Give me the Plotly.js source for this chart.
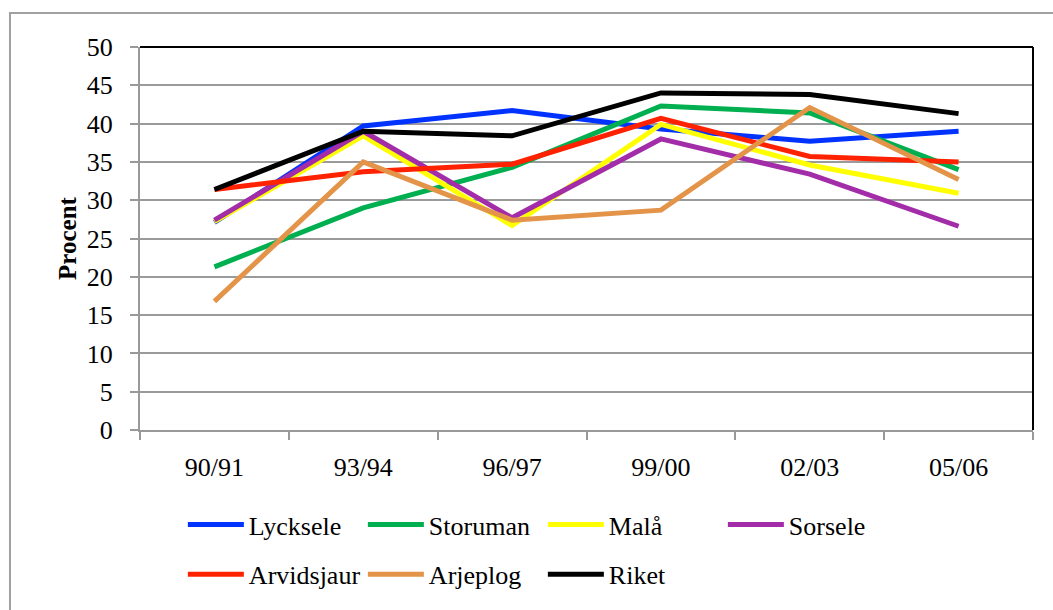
<!DOCTYPE html>
<html><head><meta charset="utf-8">
<script src="https://cdn.plot.ly/plotly-3.0.1.min.js"></script>
<style>html,body{margin:0;padding:0;background:#fff}#chart{width:1053px;height:610px}</style>
</head><body><div id="chart"></div>
<script>
const periods = ['90/91', '93/94', '96/97', '99/00', '02/03', '05/06'];
const lycksele = [27.1, 39.7, 41.7, 39.3, 37.7, 39.0];
const storuman = [21.3, 29.0, 34.3, 42.3, 41.4, 34.0];
const mala = [27.2, 38.4, 26.7, 39.9, 34.6, 30.9];
const sorsele = [27.4, 39.0, 27.7, 38.0, 33.4, 26.6];
const arvidsjaur = [31.4, 33.7, 34.7, 40.7, 35.7, 35.0];
const arjeplog = [16.8, 35.0, 27.4, 28.7, 42.1, 32.7];
const riket = [31.4, 39.0, 38.4, 44.0, 43.8, 41.3];

const seriesNames = ['Lycksele', 'Storuman', 'Malå', 'Sorsele', 'Arvidsjaur', 'Arjeplog', 'Riket'];
const seriesValues = [lycksele, storuman, mala, sorsele, arvidsjaur, arjeplog, riket];
const seriesColors = ['#0033FF', '#00B050', '#FFFF00', '#A32CA8', '#FF2200', '#E39448', '#000000'];
const legendOf = ['legend', 'legend', 'legend', 'legend', 'legend2', 'legend2', 'legend2'];

const FONT = 'Liberation Serif, Times New Roman, serif';

const traces = seriesNames.map((name, i) => ({
  type: 'scatter',
  mode: 'lines',
  x: periods,
  y: seriesValues[i],
  name: name,
  legend: legendOf[i],
  line: {color: seriesColors[i], width: 5},
  hoverinfo: 'skip'
}));

const legendCommon = {
  orientation: 'h',
  xanchor: 'left',
  yanchor: 'middle',
  font: {family: FONT, size: 26, color: '#000'},
  entrywidth: 109,
  entrywidthmode: 'pixels',
  itemwidth: 56,
  bgcolor: 'rgba(0,0,0,0)',
  traceorder: 'normal'
};

const layout = {
  width: 1053,
  height: 610,
  paper_bgcolor: '#ffffff',
  plot_bgcolor: '#ffffff',
  margin: {l: 140, r: 20, t: 47, b: 177},
  font: {family: FONT, size: 26, color: '#000'},
  showlegend: true,
  legend: Object.assign({}, legendCommon, {x: 0.048, y: -0.247}),
  legend2: Object.assign({}, legendCommon, {x: 0.048, y: -0.377}),
  xaxis: {
    type: 'category',
    range: [-0.5, 5.5],
    showgrid: false,
    showline: true,
    linecolor: '#999999',
    linewidth: 2,
    ticks: 'outside',
    tickson: 'boundaries',
    ticklen: 8,
    tickwidth: 2,
    tickcolor: '#999999',
    ticklabelstandoff: 13,
    tickfont: {family: FONT, size: 26, color: '#000'},
    zeroline: false,
    fixedrange: true
  },
  yaxis: {
    range: [0, 50],
    dtick: 5,
    tick0: 0,
    showgrid: true,
    gridcolor: '#9a9a9a',
    gridwidth: 2,
    showline: true,
    linecolor: '#999999',
    linewidth: 2,
    ticks: 'outside',
    ticklen: 8,
    tickwidth: 2,
    tickcolor: '#999999',
    ticklabelstandoff: 12,
    tickfont: {family: FONT, size: 26, color: '#000'},
    zeroline: false,
    fixedrange: true,
    title: {text: '<b>Procent</b>', font: {family: FONT, size: 25, color: '#000'}, standoff: 3}
  },
  shapes: [
    {type: 'line', xref: 'paper', yref: 'paper', x0: 0, x1: 1, y0: 1, y1: 1, line: {color: '#000', width: 2}},
    {type: 'line', xref: 'paper', yref: 'paper', x0: 1, x1: 1, y0: 0, y1: 1, line: {color: '#000', width: 2}},
    {type: 'rect', xref: 'paper', yref: 'paper', x0: -0.1456, x1: 1.05, y0: -0.5, y1: 1.089, line: {color: '#a0a0a0', width: 2}, layer: 'below'}
  ]
};

Plotly.newPlot('chart', traces, layout, {displayModeBar: false, staticPlot: true});
</script>
</body></html>
